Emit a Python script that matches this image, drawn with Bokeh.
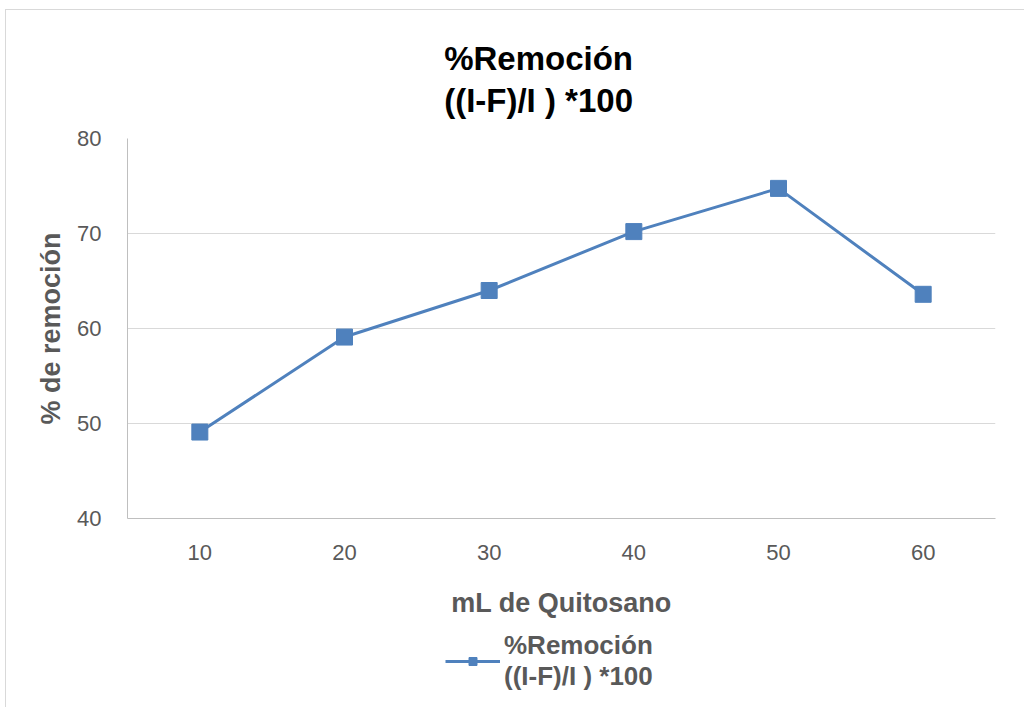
from bokeh.plotting import figure
from bokeh.layouts import column
from bokeh.models import FixedTicker, Legend, LegendItem, Range1d
from bokeh.embed import file_html
from bokeh.resources import INLINE

# Data
categories = [10, 20, 30, 40, 50, 60]
remocion = [49.1, 59.1, 64.0, 70.2, 74.75, 63.6]
y_ticks = [40, 50, 60, 70, 80]

title_lines = ["%Remoción", "((I-F)/I ) *100"]
series_label = "%Remoción\n((I-F)/I ) *100"
x_label = "mL de Quitosano"
y_label = "% de remoción"

BLUE = "#4F81BD"
GRAY_TXT = "#595959"
BORDER = "1px solid #D9D9D9"
FONT = "Liberation Sans"

p = figure(frame_width=867, frame_height=379, output_backend="svg", toolbar_location=None,
           x_range=Range1d(5, 65), y_range=Range1d(40, 80),
           min_border_left=121, min_border_top=128, min_border_right=30, min_border_bottom=100)
p.styles = {"border-top": BORDER, "border-left": BORDER}

pad = "\u00a0" * 5
p.title.text = "\n".join(t + pad for t in title_lines)
p.title.text_font = FONT
p.title.text_font_size = "33px"
p.title.text_font_style = "bold"
p.title.text_color = "#000000"
p.title.align = "center"
p.title.text_line_height = 1.15
p.title.standoff = 38

p.outline_line_color = None
p.background_fill_color = "white"
p.border_fill_color = "white"

p.line(categories, remocion, line_color=BLUE, line_width=3)
p.scatter(categories, remocion, marker="square", size=16, fill_color=BLUE, line_color=BLUE)

# axes
p.xaxis.ticker = FixedTicker(ticks=categories)
p.yaxis.ticker = FixedTicker(ticks=y_ticks)
for ax in (p.xaxis, p.yaxis):
    ax.major_tick_line_color = None
    ax.minor_tick_line_color = None
    ax.axis_line_color = "#BFBFBF"
    ax.major_label_text_font = FONT
    ax.major_label_text_font_size = "22px"
    ax.major_label_text_color = GRAY_TXT
    ax.axis_label_text_font = FONT
    ax.axis_label_text_font_size = "27px"
    ax.axis_label_text_font_style = "bold"
    ax.axis_label_text_color = GRAY_TXT
p.xaxis.axis_label = x_label
p.yaxis.axis_label = y_label
p.xaxis.major_label_standoff = 20
p.yaxis.major_label_standoff = 20
p.xaxis.axis_label_standoff = 25
p.yaxis.axis_label_standoff = 8

p.xgrid.grid_line_color = None
p.ygrid.grid_line_color = "#D9D9D9"
p.ygrid.ticker = FixedTicker(ticks=y_ticks)

# Legend strip below the chart: the series is drawn here outside the visible range,
# so only its legend entry shows.
p2 = figure(frame_width=867, height=88, output_backend="svg", toolbar_location=None,
            x_range=Range1d(0, 1), y_range=Range1d(0, 1),
            x_axis_type=None, y_axis_type=None,
            min_border_left=121, min_border_top=7, min_border_right=30, min_border_bottom=0)
p2.styles = {"border-left": BORDER}
p2.outline_line_color = None
p2.xgrid.visible = False
p2.ygrid.visible = False
lg_line = p2.line(categories, remocion, line_color=BLUE, line_width=3)
lg_mark = p2.scatter(categories, remocion, marker="square", size=16, fill_color=BLUE, line_color=BLUE)

legend = Legend(items=[LegendItem(label=series_label, renderers=[lg_line, lg_mark])],
                location=(318, 15), orientation="vertical")
legend.label_text_font = FONT
legend.label_text_font_size = "26px"
legend.label_text_font_style = "bold"
legend.label_text_color = GRAY_TXT
legend.label_text_line_height = 1.25
legend.glyph_width = 55
legend.glyph_height = 20
legend.border_line_color = None
legend.background_fill_alpha = 0
legend.margin = 0
legend.padding = 0
legend.label_standoff = 4
p2.add_layout(legend, "center")

layout = column(p, p2, spacing=0, styles={"margin-left": "5px", "margin-top": "9px"})

open("out.html", "w").write(file_html(layout, INLINE))
